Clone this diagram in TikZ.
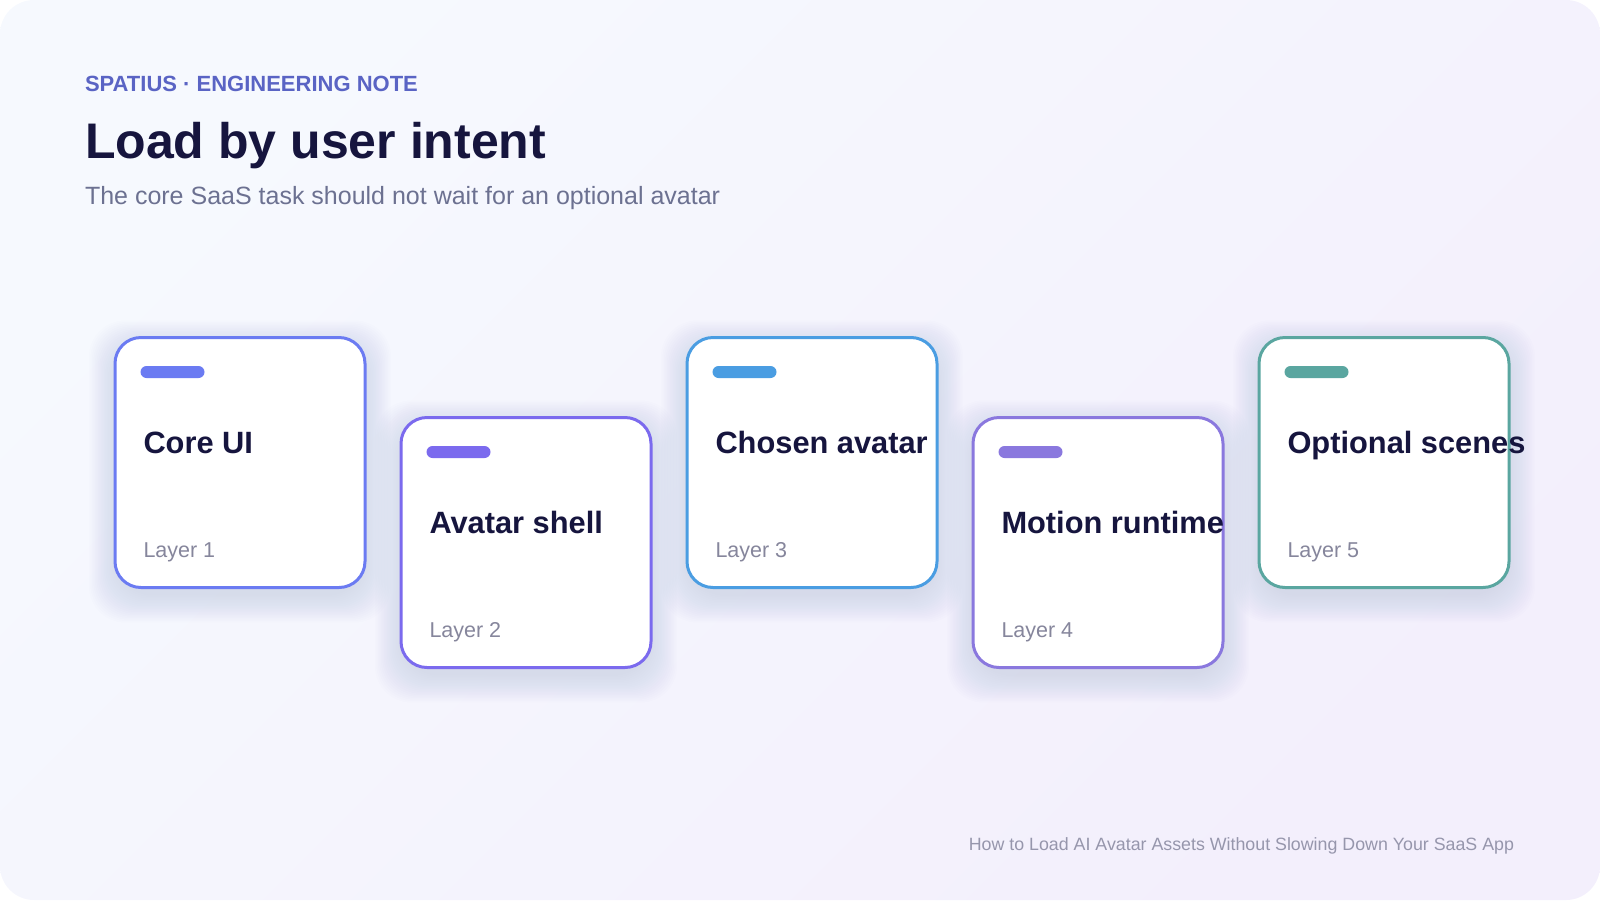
\documentclass[tikz,border=0pt]{standalone}
\usepackage{fontspec}
\setmainfont{Liberation Sans}
\usepackage{xcolor}
\usepackage{tikz}
\definecolor{bgA}{RGB}{246,249,254}
\definecolor{bgM}{RGB}{239,242,253}
\definecolor{bgB}{RGB}{243,239,252}
\definecolor{inkC}{RGB}{22,21,62}
\definecolor{eyebrowC}{RGB}{90,100,196}
\definecolor{subC}{RGB}{108,113,145}
\definecolor{layerC}{RGB}{134,134,156}
\definecolor{footC}{RGB}{150,150,172}
\definecolor{shadowC}{RGB}{95,105,215}
\definecolor{coreC}{RGB}{107,123,242}
\definecolor{shellC}{RGB}{123,106,238}
\definecolor{chosenC}{RGB}{74,157,226}
\definecolor{motionC}{RGB}{138,120,222}
\definecolor{sceneC}{RGB}{90,166,160}
\tikzstyle{card}      = [rectangle, draw, fill=white, line width=3pt, rounded corners=26pt, minimum width=250pt, minimum height=250pt]
\tikzstyle{pill}      = [rectangle, rounded corners=6pt, minimum width=64pt, minimum height=12pt]
\tikzstyle{cardtitle} = [anchor=base west, text=inkC, font=\bfseries\fontsize{30.8}{36}\selectfont]
\tikzstyle{cardlayer} = [anchor=base west, text=layerC, font=\fontsize{21.5}{26}\selectfont]
\tikzstyle{glow}      = [fill=shadowC, opacity=0.008, rounded corners=36pt]
\tikzset{every node/.style={inner sep=0pt, outer sep=0pt}}

\begin{document}
\begin{tikzpicture}[x=1pt, y=-1pt]
    \useasboundingbox (0,0) rectangle (1600,900);
    \shade[rounded corners=34pt, top color=bgA, middle color=bgM, bottom color=bgB, shading angle=45] (0,0) rectangle (1600,900);
    % soft shadows under the cards
    \foreach \cx/\cy in {240/462.5, 526/542.5, 812/462.5, 1098/542.5, 1384/462.5}
      \foreach \h in {124,125.5,...,152}
        \path[glow] (\cx-\h,\cy-\h+9) rectangle (\cx+\h,\cy+\h+9);
    % Header
    \node (eyebrow) at (85,91)   [anchor=base west, text=eyebrowC, font=\bfseries\fontsize{22}{26}\selectfont] {SPATIUS · ENGINEERING NOTE};
    \node (title)   at (85,158)  [anchor=base west, text=inkC, font=\bfseries\fontsize{50}{60}\selectfont] {Load by user intent};
    \node (sub)     at (85,204)  [anchor=base west, text=subC, font=\fontsize{25}{30}\selectfont] {The core SaaS task should not wait for an optional avatar};
    % Layer 1 (high)
    \node (core)     at (240,462.5)   [card, draw=coreC] {};
    \node (corebar)  at (172.5,372)   [pill, fill=coreC] {};
    \node (coret)    at (143.5,453)   [cardtitle] {Core UI};
    \node (corel)    at (143.5,557)   [cardlayer] {Layer 1};
    % Layer 2 (low)
    \node (shell)    at (526,542.5)   [card, draw=shellC] {};
    \node (shellbar) at (458.5,452)   [pill, fill=shellC] {};
    \node (shellt)   at (429.5,533)   [cardtitle] {Avatar shell};
    \node (shelll)   at (429.5,637)   [cardlayer] {Layer 2};
    % Layer 3 (high)
    \node (chosen)    at (812,462.5)  [card, draw=chosenC] {};
    \node (chosenbar) at (744.5,372)  [pill, fill=chosenC] {};
    \node (chosent)   at (715.5,453)  [cardtitle] {Chosen avatar};
    \node (chosenl)   at (715.5,557)  [cardlayer] {Layer 3};
    % Layer 4 (low)
    \node (motion)    at (1098,542.5) [card, draw=motionC] {};
    \node (motionbar) at (1030.5,452) [pill, fill=motionC] {};
    \node (motiont)   at (1001.5,533) [cardtitle] {Motion runtime};
    \node (motionl)   at (1001.5,637) [cardlayer] {Layer 4};
    % Layer 5 (high)
    \node (scene)    at (1384,462.5)  [card, draw=sceneC] {};
    \node (scenebar) at (1316.5,372)  [pill, fill=sceneC] {};
    \node (scenet)   at (1287.5,453)  [cardtitle] {Optional scenes};
    \node (scenel)   at (1287.5,557)  [cardlayer] {Layer 5};
    % Footer
    \node (foot) at (1514,850) [anchor=base east, text=footC, font=\fontsize{17.8}{22}\selectfont] {How to Load AI Avatar Assets Without Slowing Down Your SaaS App};
\end{tikzpicture}
\end{document}
